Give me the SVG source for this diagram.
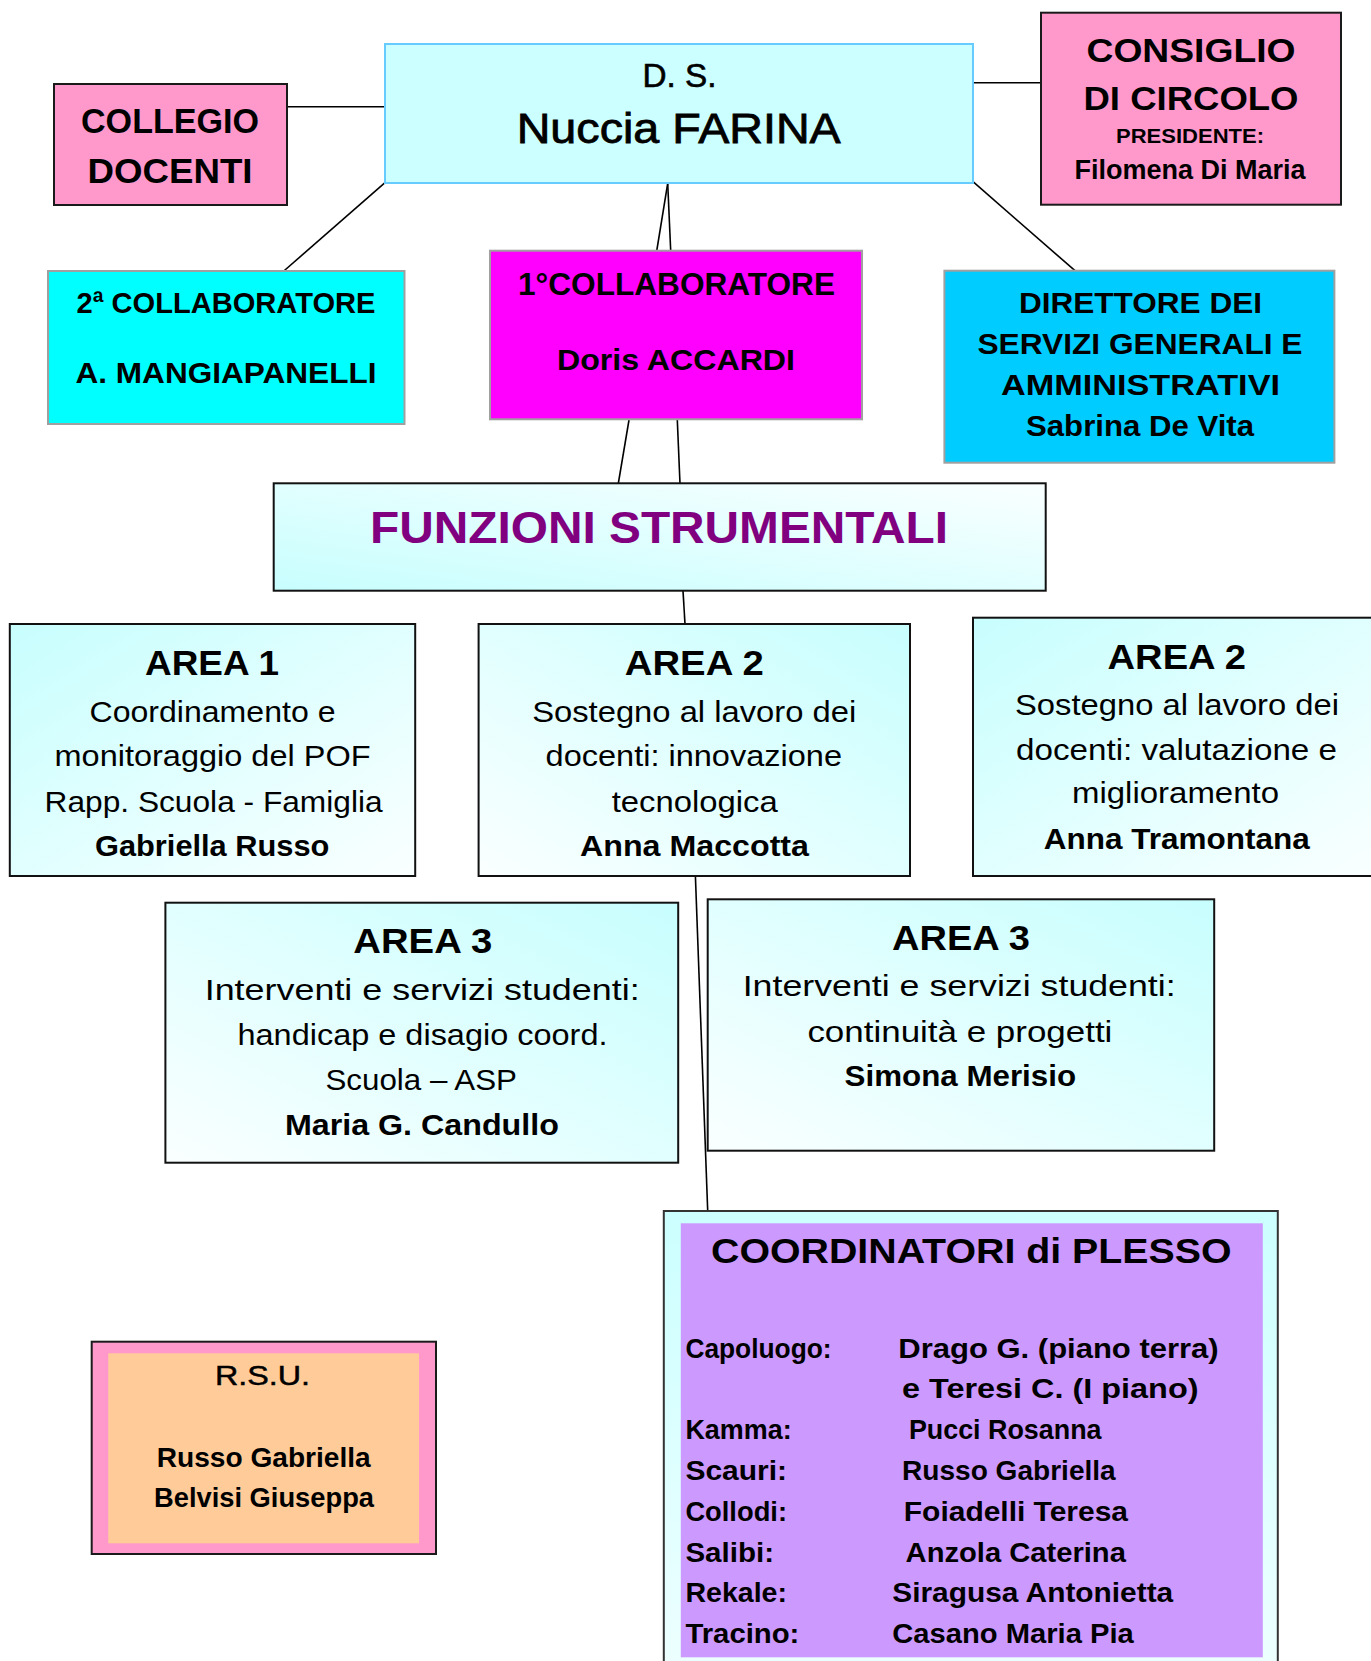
<svg xmlns="http://www.w3.org/2000/svg" width="1371" height="1661" viewBox="0 0 1371 1661">
<defs>
<linearGradient id="gA" x1="0" y1="0" x2="1" y2="1">
<stop offset="0" stop-color="#C8FEFE"/><stop offset="1" stop-color="#FAFFFF"/>
</linearGradient>
<linearGradient id="gB" x1="1" y1="0" x2="0" y2="1">
<stop offset="0" stop-color="#C8FEFE"/><stop offset="1" stop-color="#FAFFFF"/>
</linearGradient>
<linearGradient id="gF" x1="0" y1="1" x2="1" y2="0">
<stop offset="0" stop-color="#C8FEFE"/><stop offset="1" stop-color="#FAFFFF"/>
</linearGradient>
<linearGradient id="gV" x1="0" y1="0" x2="0" y2="1">
<stop offset="0" stop-color="#CCFFFF"/><stop offset="1" stop-color="#EEFFFF"/>
</linearGradient>
<style>
text{font-family:'Liberation Sans',Arial,sans-serif;fill:#000;text-anchor:middle}
.b{font-weight:bold}
.l{text-anchor:start}
.dark{stroke:#1a1a1a;stroke-width:2}
.grey{stroke:#A0A0A0;stroke-width:2}
.blk{stroke:#111;stroke-width:2}
.conn line{stroke:#000;stroke-width:1.6}
</style>
</defs>
<rect width="1371" height="1661" fill="#fff"/>

<g class="conn" id="connectors">
<line x1="287" y1="106.7" x2="385" y2="106.7"/>
<line x1="973" y1="82.7" x2="1041" y2="82.7"/>
<line x1="385" y1="182.7" x2="284.4" y2="270.5"/>
<line x1="973" y1="181.7" x2="1075" y2="270.7"/>
<line x1="667.7" y1="183.3" x2="656.7" y2="251"/>
<line x1="667.7" y1="183.3" x2="670.7" y2="251"/>
<line x1="629" y1="420" x2="618.3" y2="483.5"/>
<line x1="677.3" y1="420" x2="680" y2="483.5"/>
<line x1="683" y1="590.7" x2="685" y2="624"/>
<line x1="695.4" y1="876" x2="707.7" y2="1211"/>
</g>

<g id="collegio">
<rect x="54" y="84" width="233" height="121" fill="#FF99CC" class="dark"/>
<text class="b" x="170" y="133.3" font-size="35" textLength="178" lengthAdjust="spacingAndGlyphs">COLLEGIO</text>
<text class="b" x="170" y="182.7" font-size="35" textLength="165" lengthAdjust="spacingAndGlyphs">DOCENTI</text>
</g>

<g id="ds">
<rect x="385" y="44" width="588" height="139" fill="#CCFFFF" stroke="#66CCFF" stroke-width="2"/>
<text x="679.5" y="87.3" font-size="33" textLength="74" lengthAdjust="spacingAndGlyphs" style="stroke:#000;stroke-width:0.6">D. S.</text>
<text x="678.7" y="143.3" font-size="42" textLength="324" lengthAdjust="spacingAndGlyphs" style="stroke:#000;stroke-width:0.8">Nuccia FARINA</text>
</g>

<g id="consiglio">
<rect x="1041" y="12.7" width="300" height="192" fill="#FF99CC" class="dark"/>
<text class="b" x="1191" y="61.7" font-size="34" textLength="209" lengthAdjust="spacingAndGlyphs">CONSIGLIO</text>
<text class="b" x="1191" y="110" font-size="34" textLength="215" lengthAdjust="spacingAndGlyphs">DI CIRCOLO</text>
<text class="b" x="1190" y="142.7" font-size="20" textLength="148" lengthAdjust="spacingAndGlyphs">PRESIDENTE:</text>
<text class="b" x="1190" y="179.3" font-size="27" textLength="231" lengthAdjust="spacingAndGlyphs">Filomena Di Maria</text>
</g>

<g id="collaboratore2">
<rect x="48" y="271" width="356.5" height="153" fill="#00FFFF" class="grey"/>
<text class="b" x="226" y="313.3" font-size="30" textLength="299" lengthAdjust="spacingAndGlyphs">2ª COLLABORATORE</text>
<text class="b" x="226" y="383.3" font-size="30" textLength="301" lengthAdjust="spacingAndGlyphs">A. MANGIAPANELLI</text>
</g>

<g id="collaboratore1">
<rect x="490" y="250.7" width="372" height="168.6" fill="#FF00FF" class="grey"/>
<text class="b" x="676.5" y="295" font-size="32" textLength="317" lengthAdjust="spacingAndGlyphs">1°COLLABORATORE</text>
<text class="b" x="676" y="370" font-size="30" textLength="238" lengthAdjust="spacingAndGlyphs">Doris ACCARDI</text>
</g>

<g id="direttore">
<rect x="944.4" y="270.7" width="390" height="192" fill="#00CCFF" class="grey"/>
<text class="b" x="1140.5" y="313.3" font-size="30" textLength="243" lengthAdjust="spacingAndGlyphs">DIRETTORE DEI</text>
<text class="b" x="1140" y="354" font-size="30" textLength="325" lengthAdjust="spacingAndGlyphs">SERVIZI GENERALI E</text>
<text class="b" x="1140.5" y="395" font-size="30" textLength="279" lengthAdjust="spacingAndGlyphs">AMMINISTRATIVI</text>
<text class="b" x="1140" y="436" font-size="30" textLength="228" lengthAdjust="spacingAndGlyphs">Sabrina De Vita</text>
</g>

<g id="funzioni">
<rect x="273.7" y="483.3" width="772" height="107.4" fill="url(#gF)" class="blk"/>
<text class="b" x="659" y="542.7" font-size="45" style="fill:#800080" textLength="578" lengthAdjust="spacingAndGlyphs">FUNZIONI STRUMENTALI</text>
</g>

<g id="area1">
<rect x="9.8" y="624" width="405.4" height="252" fill="url(#gA)" class="blk"/>
<text class="b" x="212" y="675" font-size="35" textLength="134" lengthAdjust="spacingAndGlyphs">AREA 1</text>
<text x="212.5" y="721.7" font-size="30" textLength="246" lengthAdjust="spacingAndGlyphs">Coordinamento e</text>
<text x="212.5" y="766" font-size="30" textLength="316" lengthAdjust="spacingAndGlyphs">monitoraggio del POF</text>
<text x="213.6" y="811.7" font-size="30" textLength="338" lengthAdjust="spacingAndGlyphs">Rapp. Scuola - Famiglia</text>
<text class="b" x="212.2" y="856" font-size="30" textLength="234.5" lengthAdjust="spacingAndGlyphs">Gabriella Russo</text>
</g>

<g id="area2a">
<rect x="478.6" y="624" width="431.4" height="252" fill="url(#gB)" class="blk"/>
<text class="b" x="694.3" y="675" font-size="35" textLength="139" lengthAdjust="spacingAndGlyphs">AREA 2</text>
<text x="694.2" y="721.7" font-size="30" textLength="324" lengthAdjust="spacingAndGlyphs">Sostegno al lavoro dei</text>
<text x="693.8" y="766" font-size="30" textLength="296.5" lengthAdjust="spacingAndGlyphs">docenti: innovazione</text>
<text x="694.7" y="811.7" font-size="30" textLength="166" lengthAdjust="spacingAndGlyphs">tecnologica</text>
<text class="b" x="694.5" y="856" font-size="30" textLength="229" lengthAdjust="spacingAndGlyphs">Anna Maccotta</text>
</g>

<g id="area2b">
<rect x="973" y="617.7" width="408" height="258.3" fill="url(#gA)" class="blk"/>
<text class="b" x="1176.8" y="669.3" font-size="35" textLength="138.5" lengthAdjust="spacingAndGlyphs">AREA 2</text>
<text x="1177" y="715" font-size="30" textLength="324" lengthAdjust="spacingAndGlyphs">Sostegno al lavoro dei</text>
<text x="1176.5" y="760" font-size="30" textLength="321" lengthAdjust="spacingAndGlyphs">docenti: valutazione e</text>
<text x="1175.5" y="803.3" font-size="30" textLength="207" lengthAdjust="spacingAndGlyphs">miglioramento</text>
<text class="b" x="1176.8" y="849.3" font-size="30" textLength="266" lengthAdjust="spacingAndGlyphs">Anna Tramontana</text>
</g>

<g id="area3a">
<rect x="165.4" y="902.7" width="512.8" height="260" fill="url(#gB)" class="blk"/>
<text class="b" x="422.8" y="953.3" font-size="35" textLength="139" lengthAdjust="spacingAndGlyphs">AREA 3</text>
<text x="422.2" y="1000" font-size="30" textLength="435" lengthAdjust="spacingAndGlyphs">Interventi e servizi studenti:</text>
<text x="422.5" y="1045" font-size="30" textLength="370" lengthAdjust="spacingAndGlyphs">handicap e disagio coord.</text>
<text x="421.2" y="1090" font-size="30" textLength="191.5" lengthAdjust="spacingAndGlyphs">Scuola – ASP</text>
<text class="b" x="421.9" y="1135" font-size="30" textLength="274" lengthAdjust="spacingAndGlyphs">Maria G. Candullo</text>
</g>

<g id="area3b">
<rect x="707.7" y="899.3" width="506.5" height="251.4" fill="url(#gB)" class="blk"/>
<text class="b" x="961" y="950" font-size="35" textLength="138" lengthAdjust="spacingAndGlyphs">AREA 3</text>
<text x="959.2" y="996" font-size="30" textLength="433" lengthAdjust="spacingAndGlyphs">Interventi e servizi studenti:</text>
<text x="959.9" y="1041.7" font-size="30" textLength="305" lengthAdjust="spacingAndGlyphs">continuità e progetti</text>
<text class="b" x="960.3" y="1086" font-size="30" textLength="231.5" lengthAdjust="spacingAndGlyphs">Simona Merisio</text>
</g>

<g id="coordinatori">
<rect x="663.8" y="1211" width="614" height="470" fill="url(#gV)" stroke="#333" stroke-width="2"/>
<rect x="680.8" y="1223.3" width="582" height="434" fill="#CC99FF"/>
<text class="b" x="971.3" y="1263.3" font-size="35" textLength="520.6" lengthAdjust="spacingAndGlyphs">COORDINATORI di PLESSO</text>
<text class="b l" x="685.4" y="1358.3" font-size="28" textLength="146.2" lengthAdjust="spacingAndGlyphs">Capoluogo:</text>
<text class="b l" x="898.3" y="1358.3" font-size="28" textLength="320.4" lengthAdjust="spacingAndGlyphs">Drago G. (piano terra)</text>
<text class="b l" x="902" y="1398.3" font-size="28" textLength="296.5" lengthAdjust="spacingAndGlyphs">e Teresi C. (I piano)</text>
<text class="b l" x="685.4" y="1439.3" font-size="28" textLength="106.2" lengthAdjust="spacingAndGlyphs">Kamma:</text>
<text class="b l" x="908.9" y="1439.3" font-size="28" textLength="192.6" lengthAdjust="spacingAndGlyphs">Pucci Rosanna</text>
<text class="b l" x="685.4" y="1480" font-size="28" textLength="101.6" lengthAdjust="spacingAndGlyphs">Scauri:</text>
<text class="b l" x="902" y="1480" font-size="28" textLength="213.7" lengthAdjust="spacingAndGlyphs">Russo Gabriella</text>
<text class="b l" x="685.4" y="1520.7" font-size="28" textLength="101.6" lengthAdjust="spacingAndGlyphs">Collodi:</text>
<text class="b l" x="903.8" y="1520.7" font-size="28" textLength="224.2" lengthAdjust="spacingAndGlyphs">Foiadelli Teresa</text>
<text class="b l" x="685.4" y="1561.7" font-size="28" textLength="88.6" lengthAdjust="spacingAndGlyphs">Salibi:</text>
<text class="b l" x="905.6" y="1561.7" font-size="28" textLength="220.3" lengthAdjust="spacingAndGlyphs">Anzola Caterina</text>
<text class="b l" x="685.4" y="1601.7" font-size="28" textLength="101.6" lengthAdjust="spacingAndGlyphs">Rekale:</text>
<text class="b l" x="892.3" y="1601.7" font-size="28" textLength="280.9" lengthAdjust="spacingAndGlyphs">Siragusa Antonietta</text>
<text class="b l" x="685.4" y="1643.3" font-size="28" textLength="114" lengthAdjust="spacingAndGlyphs">Tracino:</text>
<text class="b l" x="892.3" y="1643.3" font-size="28" textLength="241.4" lengthAdjust="spacingAndGlyphs">Casano Maria Pia</text>
</g>

<g id="rsu">
<rect x="91.7" y="1341.7" width="344.3" height="212.3" fill="#FF99CC" class="dark"/>
<rect x="108.3" y="1353.3" width="310.7" height="190" fill="#FFCC99"/>
<text x="262.5" y="1385" font-size="28" textLength="95" lengthAdjust="spacingAndGlyphs" style="stroke:#000;stroke-width:0.5">R.S.U.</text>
<text class="b" x="263.7" y="1466.7" font-size="28" textLength="214" lengthAdjust="spacingAndGlyphs">Russo Gabriella</text>
<text class="b" x="264" y="1506.7" font-size="28" textLength="220" lengthAdjust="spacingAndGlyphs">Belvisi Giuseppa</text>
</g>
</svg>
